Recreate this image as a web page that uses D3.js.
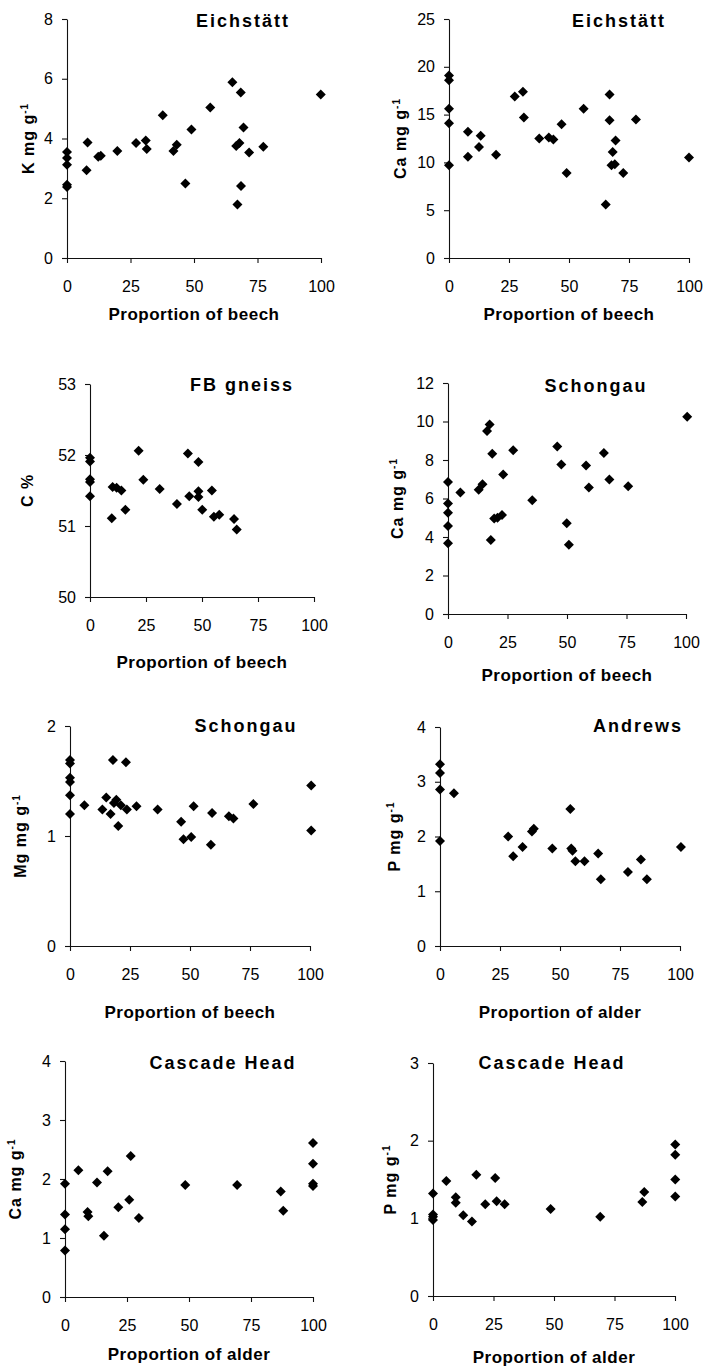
<!DOCTYPE html>
<html>
<head>
<meta charset="utf-8">
<script src="https://cdn.jsdelivr.net/npm/d3@7"></script>
<style>
    body { margin: 0; background: #fff; }
    svg text { font-family: "Liberation Sans", Arial, sans-serif; fill: #000; }
</style>
</head>
<body>
<div id="chart"></div>
<script>
// ---------------- data ----------------
const xTicks = [0, 25, 50, 75, 100];

const kEichstatt = [[0,3.55],[0,3.35],[0,3.12],[0,2.45],[0,2.38],
    [7.7,2.94],[8.1,3.87],[12.3,3.39],[13.3,3.42],[19.8,3.58],[27.2,3.85],[31,3.93],[31.4,3.65],
    [37.7,4.78],[41.9,3.58],[43.2,3.79],[46.6,2.49],[49,4.3],[56.4,5.04],[65.1,5.88],[66.6,3.75],
    [67.1,1.79],[67.9,3.85],[68.4,5.54],[68.5,2.41],[69.5,4.37],[71.7,3.53],[77.3,3.72],[99.9,5.47]];

const caEichstatt = [[0,19.1],[0,18.6],[0,15.6],[0,14.1],[0,9.7],
    [7.9,13.2],[7.9,10.6],[12.5,11.6],[13.2,12.8],[19.6,10.8],[27.4,16.9],[30.8,17.4],[31.2,14.7],
    [37.6,12.5],[41.6,12.6],[43.5,12.4],[46.9,14],[49,8.9],[56.1,15.6],[65.3,5.6],[66.9,17.1],
    [66.9,14.4],[67.7,9.7],[68.2,11.1],[69.1,9.8],[69.4,12.3],[72.6,8.9],[77.9,14.5],[100,10.5]];

const cGneiss = [[0,51.96],[0,51.91],[0,51.66],[0,51.62],[0,51.42],
    [9.7,51.11],[10.1,51.55],[11.9,51.54],[14,51.5],[15.8,51.23],[21.7,52.06],[23.8,51.65],
    [31.1,51.52],[38.8,51.31],[43.7,52.02],[44.3,51.42],[48.4,51.9],[48.4,51.49],[48.4,51.41],
    [50.1,51.23],[54.4,51.5],[55.3,51.13],[57.7,51.16],[64.3,51.1],[65.5,50.95]];

const caSchongau = [[0,6.86],[0,5.74],[0,5.26],[0,4.57],[0,3.67],
    [5.2,6.31],[12.9,6.45],[14.5,6.74],[16.4,9.51],[17.5,9.84],[18,3.84],[18.6,8.33],[19.4,4.96],
    [20.8,5.0],[22.7,5.14],[23.2,7.25],[27.4,8.51],[35.4,5.91],[45.9,8.7],[47.6,7.76],[49.9,4.72],
    [50.8,3.6],[58,7.71],[59.2,6.57],[65.5,8.37],[67.8,6.99],[75.7,6.64],[100.5,10.25]];

const mgSchongau = [[0,1.69],[0,1.66],[0,1.53],[0,1.49],[0,1.37],[0,1.2],
    [6,1.28],[13.5,1.24],[15.1,1.35],[16.9,1.2],[17.9,1.69],[18.3,1.3],[19.3,1.33],[20.1,1.09],
    [21.2,1.28],[23.3,1.67],[23.7,1.24],[27.7,1.27],[36.5,1.24],[46.3,1.13],[47.3,0.97],[50.5,0.99],
    [51.5,1.27],[58.7,0.92],[59.2,1.21],[66.2,1.18],[68.1,1.16],[76.4,1.29],[100.5,1.46],[100.5,1.05]];

const pAndrews = [[0,3.32],[0,3.16],[0,2.86],[0,1.92],
    [5.8,2.79],[28.4,2.0],[30.5,1.64],[34.4,1.81],[38.3,2.09],[39.1,2.14],[46.8,1.78],[54.3,2.5],
    [54.7,1.78],[55.2,1.74],[56.4,1.55],[60.2,1.55],[65.9,1.69],[67,1.22],[78.3,1.35],[83.7,1.58],
    [86.2,1.22],[100.4,1.81]];

const caCascade = [[0,1.92],[0,1.4],[0,1.15],[0,0.79],
    [5.4,2.15],[9.1,1.44],[9.4,1.37],[12.9,1.94],[15.7,1.04],[17.2,2.13],[21.5,1.52],[25.9,1.65],
    [26.5,2.39],[29.8,1.34],[48.5,1.9],[69.4,1.9],[87,1.79],[88,1.46],[100,2.61],[100,2.26],
    [100,1.92],[100,1.88]];

const pCascade = [[0,1.32],[0,1.05],[0,1.02],[0,0.98],
    [5.5,1.48],[9.4,1.27],[9.4,1.2],[12.5,1.04],[16.1,0.96],[17.9,1.56],[21.6,1.18],[25.7,1.52],
    [26.3,1.22],[29.6,1.18],[48.6,1.12],[69.1,1.02],[86.5,1.21],[87.3,1.34],[100.1,1.95],
    [100.1,1.82],[100.1,1.5],[100.1,1.28]];

const series = [kEichstatt, caEichstatt, cGneiss, caSchongau, mgSchongau, pAndrews, caCascade, pCascade];
const titles = ['Eichstätt', 'Eichstätt', 'FB gneiss', 'Schongau', 'Schongau', 'Andrews', 'Cascade Head', 'Cascade Head'];
const yLabels = [['K mg g', '-1'], ['Ca mg g', '-1'], ['C %', ''], ['Ca mg g', '-1'],
                 ['Mg mg g', '-1'], ['P mg g', '-1'], ['Ca mg g', '-1'], ['P mg g', '-1']];
const xLabels = ['Proportion of beech', 'Proportion of beech', 'Proportion of beech', 'Proportion of beech',
                 'Proportion of beech', 'Proportion of alder', 'Proportion of alder', 'Proportion of alder'];
const yDomains = [[0, 8], [0, 25], [50, 53], [0, 12], [0, 2], [0, 4], [0, 4], [0, 3]];
const yTickValues = [[0,2,4,6,8], [0,5,10,15,20,25], [50,51,52,53], [0,2,4,6,8,10,12],
                     [0,1,2], [0,1,2,3,4], [0,1,2,3,4], [0,1,2,3]];

// ---------------- layout (pixel boxes of each panel) ----------------
// x0/x1: x axis ends, y0/y1: top/bottom of y axis, tx/ty: title, lx: y label, xt: x title baseline
const layout = [
    {x0: 67,  x1: 321, y0: 19,   y1: 258,  tx: 243, ty: 27,   lx: 28,  xt: 320},
    {x0: 449, x1: 689, y0: 19,   y1: 258,  tx: 619, ty: 27,   lx: 400, xt: 320},
    {x0: 90,  x1: 314, y0: 384,  y1: 597,  tx: 242, ty: 391,  lx: 27,  xt: 668},
    {x0: 448, x1: 686, y0: 383,  y1: 614,  tx: 596, ty: 392,  lx: 397, xt: 681},
    {x0: 70,  x1: 310, y0: 726,  y1: 946,  tx: 246, ty: 732,  lx: 20,  xt: 1018},
    {x0: 440, x1: 680, y0: 727,  y1: 946,  tx: 638, ty: 732,  lx: 394, xt: 1018},
    {x0: 65,  x1: 313, y0: 1061, y1: 1297, tx: 223, ty: 1069, lx: 15,  xt: 1360},
    {x0: 433, x1: 675, y0: 1063, y1: 1296, tx: 552, ty: 1069, lx: 390, xt: 1363}
];

const width = 705;
const height = 1369;

const svg = d3.select('#chart')
    .append('svg')
    .attr('width', width)
    .attr('height', height);

// Excel style diamond: square turned 45 degrees
const diamond = d3.symbol().type(d3.symbolSquare).size(50);

series.forEach((pts, i) => {
    const L = layout[i];
    const g = svg.append('g');

    const x = d3.scaleLinear().domain([0, 100]).range([L.x0, L.x1]);
    const y = d3.scaleLinear().domain(yDomains[i]).range([L.y1, L.y0]);

    // y axis
    const yAxis = g.append('g')
        .attr('transform', `translate(${L.x0},0)`)
        .call(d3.axisLeft(y).tickValues(yTickValues[i]).tickFormat(d3.format('d'))
            .tickSize(5).tickPadding(9).tickSizeOuter(0));

    // x axis
    const xAxis = g.append('g')
        .attr('transform', `translate(0,${L.y1})`)
        .call(d3.axisBottom(x).tickValues(xTicks).tickFormat(d3.format('d'))
            .tickSize(5).tickPadding(18).tickSizeOuter(0));

    [yAxis, xAxis].forEach(a => {
        a.attr('font-family', null).attr('font-size', null);
        a.selectAll('path, line').attr('stroke', '#111').attr('stroke-width', 1.1);
        a.selectAll('text').style('font-size', '16px');
    });

    // points
    g.selectAll('path.pt')
        .data(pts)
        .enter().append('path')
        .attr('class', 'pt')
        .attr('d', diamond)
        .attr('transform', d => `translate(${x(d[0])},${y(d[1])}) rotate(45)`)
        .attr('fill', '#000');

    // panel title
    g.append('text')
        .attr('x', L.tx)
        .attr('y', L.ty)
        .attr('text-anchor', 'middle')
        .style('font-size', '18px')
        .style('font-weight', 'bold')
        .style('letter-spacing', '2px')
        .text(titles[i]);

    // x axis title
    g.append('text')
        .attr('x', (L.x0 + L.x1) / 2)
        .attr('y', L.xt)
        .attr('text-anchor', 'middle')
        .style('font-size', '17px')
        .style('font-weight', 'bold')
        .style('letter-spacing', '0.5px')
        .text(xLabels[i]);

    // y axis title (rotated, with superscript)
    const yl = g.append('text')
        .attr('transform', `translate(${L.lx},${(L.y0 + L.y1) / 2}) rotate(-90)`)
        .attr('text-anchor', 'middle')
        .attr('dy', '0.35em')
        .style('font-size', '16px')
        .style('font-weight', 'bold')
        .style('letter-spacing', '1px');
    yl.append('tspan').text(yLabels[i][0]);
    if (yLabels[i][1]) {
        yl.append('tspan')
            .attr('dy', '-0.6em')
            .style('font-size', '10px')
            .text(yLabels[i][1]);
    }
});
</script>
</body>
</html>
